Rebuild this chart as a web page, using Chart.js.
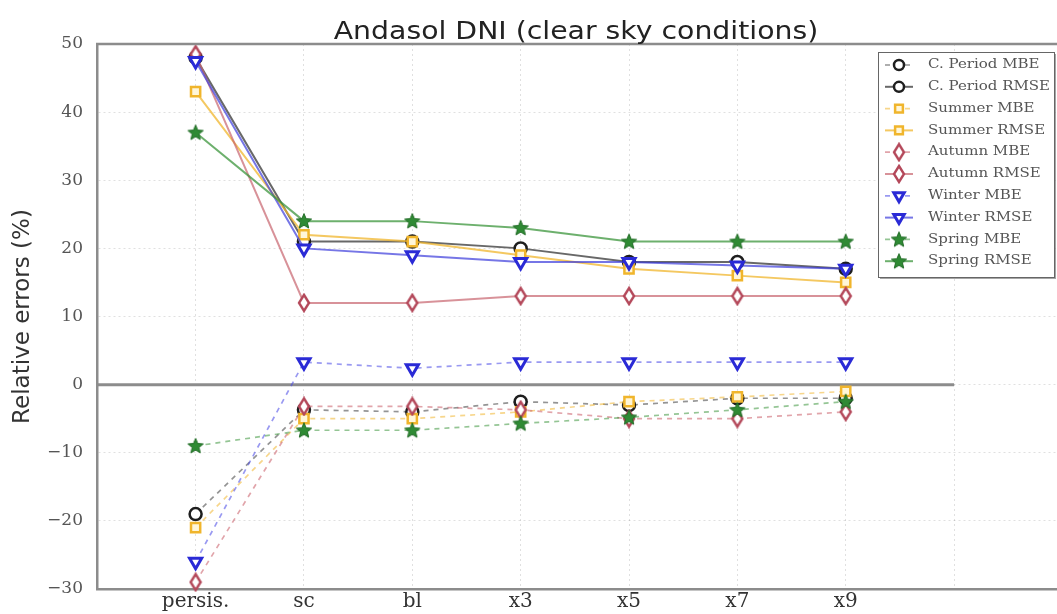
<!DOCTYPE html>
<html>
<head>
<meta charset="utf-8">
<script src="https://cdn.jsdelivr.net/npm/chart.js@4.4.0/dist/chart.umd.min.js"></script>
<style>
html, body { margin: 0; padding: 0; background: #fff; }
#wrap { width: 1057px; height: 614px; }
</style>
</head>
<body>
<div id="wrap"><canvas id="chart" width="1057" height="614"></canvas></div>
<script>
// categories and tick labels
const categories = ['persis.', 'sc', 'bl', 'x3', 'x5', 'x7', 'x9'];
const yTickValues = [-30, -20, -10, 0, 10, 20, 30, 40, 50];

// relative errors (%)
const cPeriodMBE  = [-19, -3.7, -4, -2.5, -3, -2, -2];
const cPeriodRMSE = [48, 21, 21, 20, 18, 18, 17];
const summerMBE   = [-21, -5, -5, -4, -2.5, -1.8, -1];
const summerRMSE  = [43, 22, 21, 19, 17, 16, 15];
const autumnMBE   = [-29, -3.2, -3.2, -3.7, -5, -5, -4];
const autumnRMSE  = [48.5, 12, 12, 13, 13, 13, 13];
const winterMBE   = [-26, 3.3, 2.4, 3.3, 3.3, 3.3, 3.3];
const winterRMSE  = [47.5, 20, 19, 18, 18, 17.5, 17];
const springMBE   = [-9, -6.7, -6.7, -5.7, -4.8, -3.7, -2.5];
const springRMSE  = [37, 24, 24, 23, 21, 21, 21];

// horizontal reference line at zero
const zeroLineX = [-0.91, 7];

// custom marker images
function thinDiamond(color) {
    const c = document.createElement('canvas');
    c.width = 14; c.height = 20;
    const g = c.getContext('2d');
    g.beginPath();
    g.moveTo(7, 2); g.lineTo(12, 10); g.lineTo(7, 18); g.lineTo(2, 10); g.closePath();
    g.fillStyle = '#fff'; g.fill();
    g.lineWidth = 2.4; g.strokeStyle = color; g.stroke();
    return c;
}
function starMarker(color, edge) {
    const c = document.createElement('canvas');
    c.width = 20; c.height = 20;
    const g = c.getContext('2d');
    g.beginPath();
    for (let i = 0; i < 10; i++) {
        const r = i % 2 === 0 ? 8 : 3.6;
        const a = -Math.PI / 2 + i * Math.PI / 5;
        const px = 10 + r * Math.cos(a), py = 10.5 + r * Math.sin(a);
        if (i === 0) g.moveTo(px, py); else g.lineTo(px, py);
    }
    g.closePath();
    g.fillStyle = color; g.fill();
    g.lineWidth = 1; g.strokeStyle = edge; g.stroke();
    return c;
}

const colors = {
    period: '#1e1e1e',
    summer: '#f0b52c',
    autumn: '#b4485a',
    winter: '#2a2ad6',
    spring: '#2f8a34'
};

function series(label, values, color, lineColor, pointStyle, dashed, extra) {
    return Object.assign({
        label: label,
        data: values.map((v, i) => ({ x: i, y: v })),
        borderColor: lineColor,
        borderWidth: dashed ? 1.7 : 2,
        borderDash: dashed ? [5, 5] : [],
        pointStyle: pointStyle,
        pointRadius: 6,
        pointBorderWidth: 2.5,
        pointBorderColor: color,
        pointBackgroundColor: '#fff',
        fill: false,
        tension: 0,
        clip: false
    }, extra || {});
}

const autumnDiamond = thinDiamond(colors.autumn);
const springStar = starMarker(colors.spring, '#1f6a24');

const datasets = [
    series('C. Period MBE', cPeriodMBE, colors.period, 'rgba(60,60,60,0.55)', 'circle', true),
    series('C. Period RMSE', cPeriodRMSE, colors.period, 'rgba(40,40,40,0.7)', 'circle', false),
    series('Summer MBE', summerMBE, colors.summer, 'rgba(240,181,44,0.55)', 'rect', true, { pointRadius: 6.5, pointBackgroundColor: '#fff6d8' }),
    series('Summer RMSE', summerRMSE, colors.summer, 'rgba(240,181,44,0.75)', 'rect', false, { pointRadius: 6.5, pointBackgroundColor: '#fff6d8' }),
    series('Autumn MBE', autumnMBE, colors.autumn, 'rgba(200,90,100,0.55)', autumnDiamond, true),
    series('Autumn RMSE', autumnRMSE, colors.autumn, 'rgba(200,100,110,0.7)', autumnDiamond, false),
    series('Winter MBE', winterMBE, colors.winter, 'rgba(70,70,230,0.55)', 'triangle', true, { pointRotation: 180, pointRadius: 7, pointBorderWidth: 3 }),
    series('Winter RMSE', winterRMSE, colors.winter, 'rgba(60,60,220,0.7)', 'triangle', false, { pointRotation: 180, pointRadius: 7, pointBorderWidth: 3 }),
    series('Spring MBE', springMBE, colors.spring, 'rgba(60,150,60,0.55)', springStar, true),
    series('Spring RMSE', springRMSE, colors.spring, 'rgba(60,150,60,0.75)', springStar, false)
];
// later series drawn on top
datasets.forEach((d, i) => { d.order = datasets.length - i; });

datasets.push({
    label: '',
    data: zeroLineX.map(x => ({ x: x, y: 0 })),
    borderColor: '#8c8c8c',
    borderWidth: 3,
    pointRadius: 0,
    fill: false,
    order: 50,
    isRefLine: true
});

const framePlugin = {
    id: 'frame',
    afterDraw(chart) {
        const ctx = chart.ctx;
        const a = chart.chartArea;
        ctx.save();
        // top border
        ctx.strokeStyle = '#8c8c8c';
        ctx.lineWidth = 2.5;
        ctx.beginPath();
        ctx.moveTo(a.left - 1, a.top);
        ctx.lineTo(a.right, a.top);
        ctx.stroke();

        // title
        ctx.fillStyle = '#222';
        ctx.font = '24px "DejaVu Sans"';
        ctx.textAlign = 'center';
        ctx.textBaseline = 'alphabetic';
        ctx.translate(576, 39);
        ctx.scale(1.18, 1);
        ctx.fillText('Andasol DNI (clear sky conditions)', 0, 0);
        ctx.restore();

        // legend
        ctx.save();
        const bx = 878, by = 52, bw = 176, bh = 225;
        ctx.fillStyle = 'rgba(0,0,0,0.35)';
        ctx.fillRect(bx + 2, by + 2, bw, bh);
        ctx.fillStyle = '#fff';
        ctx.fillRect(bx, by, bw, bh);
        ctx.strokeStyle = '#666';
        ctx.lineWidth = 1;
        ctx.strokeRect(bx + 0.5, by + 0.5, bw, bh);

        const items = chart.data.datasets.filter(d => !d.isRefLine);
        items.forEach((d, i) => {
            const y = 65 + i * 21.8;
            ctx.save();
            ctx.strokeStyle = d.borderColor;
            ctx.lineWidth = d.borderWidth;
            ctx.setLineDash(d.borderDash);
            ctx.beginPath();
            ctx.moveTo(885, y);
            ctx.lineTo(913, y);
            ctx.stroke();
            ctx.restore();

            ctx.save();
            ctx.fillStyle = d.pointBackgroundColor;
            ctx.strokeStyle = d.pointBorderColor;
            ctx.lineWidth = d.pointBorderWidth;
            Chart.helpers.drawPoint(ctx, {
                pointStyle: d.pointStyle,
                rotation: d.pointRotation || 0,
                radius: d.pointRadius - 1,
                borderWidth: d.pointBorderWidth
            }, 899, y);
            ctx.restore();

            ctx.save();
            ctx.fillStyle = '#555';
            ctx.font = '12px "DejaVu Serif"';
            ctx.textBaseline = 'middle';
            ctx.translate(928, y);
            ctx.scale(1.25, 1);
            ctx.fillText(d.label, 0, 0);
            ctx.restore();
        });
        ctx.restore();
    }
};

new Chart(document.getElementById('chart'), {
    type: 'line',
    data: { datasets: datasets },
    options: {
        responsive: false,
        animation: false,
        devicePixelRatio: 1,
        layout: { autoPadding: false, padding: { top: 44, left: 0, right: 0, bottom: 0 } },
        plugins: {
            legend: { display: false },
            title: { display: false },
            tooltip: { enabled: false }
        },
        scales: {
            x: {
                type: 'linear',
                min: -0.91,
                max: 7.95,
                afterBuildTicks: scale => {
                    scale.ticks = categories.map((c, i) => ({ value: i })).concat([{ value: categories.length }]);
                },
                afterFit: scale => { scale.height = 25; },
                ticks: {
                    autoSkip: false,
                    maxRotation: 0,
                    padding: 1,
                    color: '#333',
                    font: { family: 'DejaVu Serif', size: 20 },
                    callback: v => categories[v] !== undefined ? categories[v] : ''
                },
                grid: { color: 'rgba(0,0,0,0.12)', lineWidth: 1, drawTicks: false },
                border: { display: true, color: '#8c8c8c', width: 2.5, dash: [2, 3] }
            },
            y: {
                min: -30,
                max: 50,
                afterBuildTicks: scale => {
                    scale.ticks = yTickValues.map(v => ({ value: v }));
                },
                afterFit: scale => { scale.width = 97; },
                ticks: {
                    padding: 14,
                    color: '#555',
                    font: { family: 'DejaVu Serif', size: 17 },
                    callback: v => (v < 0 ? '\u2212' + Math.abs(v) : String(v))
                },
                grid: { color: 'rgba(0,0,0,0.12)', lineWidth: 1, drawTicks: false },
                border: { display: true, color: '#8c8c8c', width: 2.5, dash: [2, 3] },
                title: {
                    display: true,
                    text: 'Relative errors (%)',
                    color: '#333',
                    font: { family: 'DejaVu Sans', size: 23 },
                    padding: { top: 9, bottom: 0 }
                }
            }
        }
    },
    plugins: [framePlugin]
});
</script>
</body>
</html>
